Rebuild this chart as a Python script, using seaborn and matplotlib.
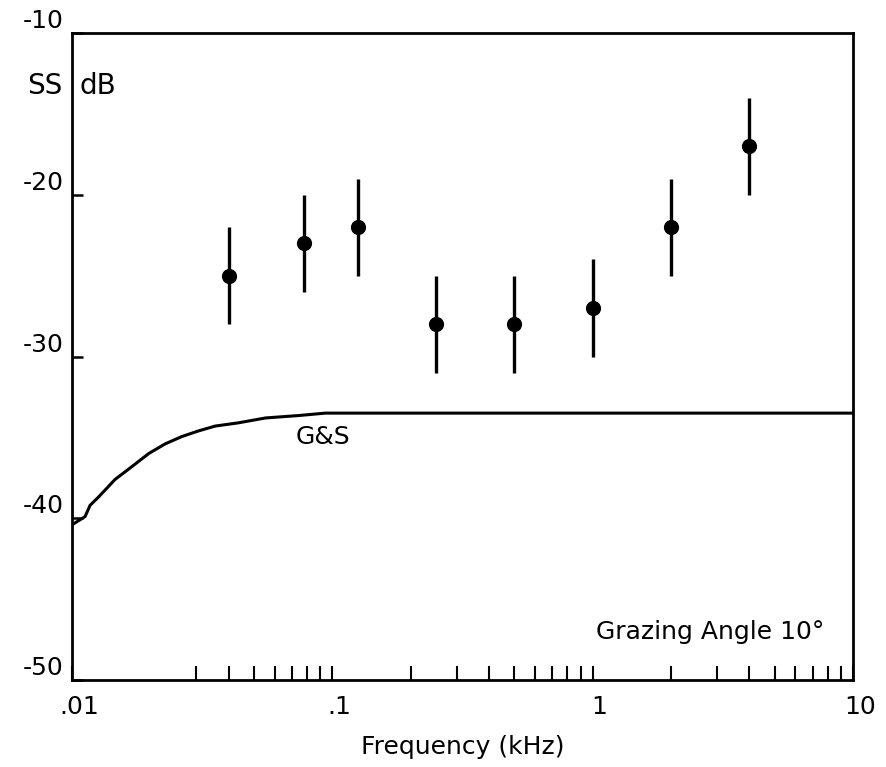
import numpy as np
import pandas as pd
import matplotlib
matplotlib.use("Agg")
import matplotlib.pyplot as plt
import matplotlib.transforms as mtransforms
import seaborn as sns

# ---- data ----
freq_khz = [0.04, 0.078, 0.125, 0.25, 0.5, 1.0, 2.0, 4.0]
ss_db = [-25, -23, -22, -28, -28, -27, -22, -17]
err_db = [3, 3, 3, 3, 3, 3, 3, 3]

gs_freq = [0.01, 0.01122, 0.01173, 0.01262, 0.01463, 0.0170, 0.0197,
           0.0228, 0.0264, 0.0306, 0.0355, 0.0436, 0.0553, 0.0742, 0.094,
           0.3, 1.0, 3.0, 10.0]
gs_db = [-40.4, -39.9, -39.2, -38.7, -37.6, -36.8, -36.0,
         -35.4, -34.95, -34.6, -34.3, -34.1, -33.8, -33.65, -33.5,
         -33.5, -33.5, -33.5, -33.5]

x_major = [0.01, 0.1, 1, 10]
x_major_labels = [".01", ".1", "1", "10"]
x_minor = [0.03, 0.04, 0.05, 0.06, 0.07, 0.08, 0.09,
           0.2, 0.3, 0.4, 0.5, 0.6, 0.7, 0.8, 0.9,
           2, 3, 4, 5, 6, 7, 8, 9]
y_ticks = [-10, -20, -30, -40, -50]
y_tick_labels = ["-10", "-20", "-30", "-40", "-50"]

sns.set_style("white")
plt.rcParams['font.family'] = ['DejaVu Sans']
plt.rcParams['text.color'] = 'black'
plt.rcParams['axes.labelcolor'] = 'black'
plt.rcParams['xtick.color'] = 'black'
plt.rcParams['ytick.color'] = 'black'

fig = plt.figure(figsize=(8.86, 7.67), dpi=100)
ax = fig.add_axes([0.0813, 0.1134, 0.8815, 0.8436])

pts = pd.DataFrame({"f": freq_khz, "ss": ss_db, "err": err_db})
curve = pd.DataFrame({"f": gs_freq, "ss": gs_db})

ax.errorbar(pts["f"], pts["ss"], yerr=pts["err"], fmt="none",
            ecolor="black", elinewidth=2.4, capsize=0, zorder=2)
sns.scatterplot(data=pts, x="f", y="ss", ax=ax, color="black", s=120,
                edgecolor="black", linewidth=0, zorder=3, legend=False)
sns.lineplot(data=curve, x="f", y="ss", ax=ax, color="black", linewidth=2.2,
             zorder=2, legend=False)

ax.set_xscale("log")
ax.set_xlim(0.01, 10)
ax.set_ylim(-50, -10)

ax.xaxis.set_major_locator(matplotlib.ticker.FixedLocator(x_major))
ax.xaxis.set_major_formatter(matplotlib.ticker.FixedFormatter(x_major_labels))
ax.xaxis.set_minor_locator(matplotlib.ticker.FixedLocator(x_minor))
ax.xaxis.set_minor_formatter(matplotlib.ticker.NullFormatter())
ax.set_yticks(y_ticks)
ax.set_yticklabels(y_tick_labels)

ax.tick_params(axis="x", which="both", direction="in", length=10, width=1.5,
               color="black", labelcolor="black", labelsize=18, pad=11,
               bottom=True, top=False)
ax.tick_params(axis="y", which="major", direction="in", length=8, width=1.8,
               color="black", labelcolor="black", labelsize=18, pad=6,
               left=True, right=False)
for lab in ax.get_yticklabels():
    lab.set_va("bottom")
offset = mtransforms.ScaledTranslation(5 / 72, 0, fig.dpi_scale_trans)
for lab in ax.get_xticklabels():
    lab.set_transform(lab.get_transform() + offset)

for sp in ax.spines.values():
    sp.set_visible(True)
    sp.set_color("black")
    sp.set_linewidth(2.0)

ax.set_xlabel("Frequency (kHz)", fontsize=18, labelpad=11, color="black")
ax.set_ylabel("")

ax.text(-0.012, 0.918, "SS", transform=ax.transAxes, ha="right", va="center",
        fontsize=20, color="black")
ax.text(0.01, 0.918, "dB", transform=ax.transAxes, ha="left", va="center",
        fontsize=20, color="black")
ax.text(0.092, -35.0, "G&S", ha="center", va="center", fontsize=18,
        color="black")
ax.text(0.963, 0.074, "Grazing Angle 10°", transform=ax.transAxes, ha="right",
        va="center", fontsize=18, color="black")
ax.grid(False)

fig.savefig("out.png", dpi=100)
